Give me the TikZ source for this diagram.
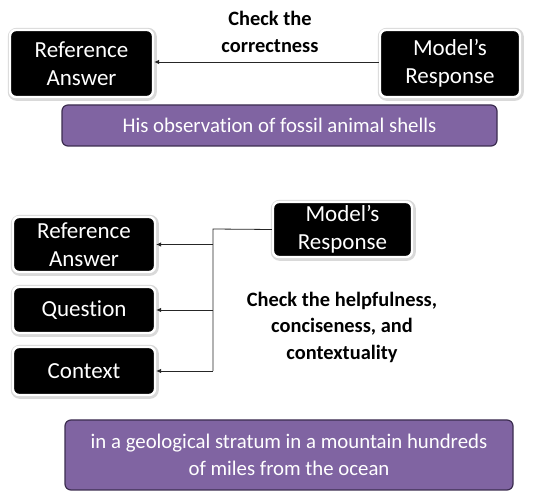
\documentclass[tikz,border=0pt]{standalone}
\usepackage{fontspec}
\setmainfont[Ligatures=NoCommon]{Carlito}
\usetikzlibrary{arrows.meta}
\tikzset{
  blackbox/.style={fill=black,draw=white,line width=2.4pt,rounded corners=6pt,
    preaction={draw=gray!30,line width=6pt,transform canvas={xshift=0.8pt,yshift=-0.8pt}},
    text=white,align=center,inner sep=0pt,font=\fontsize{23}{28}\selectfont},
  purplebox/.style={fill=boxPurple,draw=edgePurple,line width=1.2pt,rounded corners=6pt,
    text=white,align=center,inner sep=0pt,font=\fontsize{20.8}{27}\selectfont},
  checklabel/.style={align=center,inner sep=0pt,font=\bfseries\fontsize{20.4}{26.5}\selectfont},
  arr/.style={draw=black!85,line width=0.8pt,-{Latex[length=5pt,width=4.5pt]}}
}
\begin{document}
\begin{tikzpicture}[x=1pt,y=1pt]
\definecolor{boxPurple}{RGB}{128,100,162}
\definecolor{edgePurple}{RGB}{60,45,80}
\path[use as bounding box,fill=white] (0,0) rectangle (542,491);

\node[blackbox,minimum width=143,minimum height=67] (refTop) at ( 81.5,427.5) {Reference\\Answer};
\node[blackbox,minimum width=140,minimum height=67] (modelTop) at (450.0,427.5) {Model’s\\Response};
\node[purplebox,minimum width=435,minimum height=41] (hintTop) at (279.5,365.5) {His observation of fossil animal shells};
\node[checklabel] (checkTop) at (270.0,459.0) {Check the\\correctness};

\draw[arr] (modelTop.west |- 0,429) -- (refTop.east |- 0,429);

\node[blackbox,minimum width=142,minimum height=55] (refBot) at ( 84.0,246.5) {Reference\\Answer};
\node[blackbox,minimum width=142,minimum height=46] (question) at ( 84.0,181.0) {Question};
\node[blackbox,minimum width=142,minimum height=48] (context) at ( 84.0,120.0) {Context};
\node[blackbox,minimum width=139,minimum height=55] (modelBot) at (342.5,261.5) {Model’s\\Response};
\node[checklabel] (checkBot) at (342.0,164.0) {Check the helpfulness,\\conciseness, and\\contextuality};
\node[purplebox,minimum width=448,minimum height=70] (hintBot) at (289.0,36.0) {in a geological stratum in a mountain hundreds\\of miles from the ocean};

\coordinate (bus) at (213.0,262.0);
\draw[draw=black!85,line width=0.8pt] (modelBot.west) -- (bus) -- (bus |- context);
\draw[arr] (bus |- refBot) -- (refBot.east);
\draw[arr] (bus |- question) -- (question.east);
\draw[arr] (bus |- context) -- (context.east);
\end{tikzpicture}
\end{document}
